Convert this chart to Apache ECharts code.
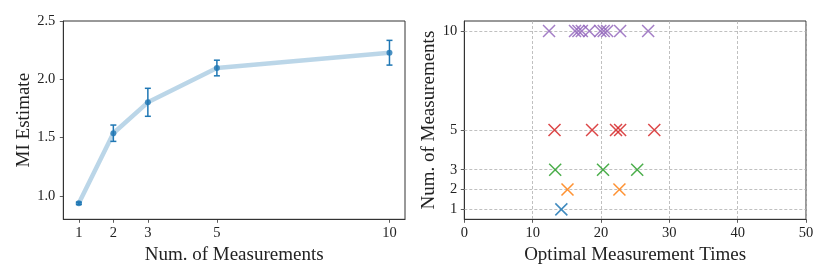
<!DOCTYPE html>
<html>
<head>
<meta charset="utf-8">
<script src="https://cdn.jsdelivr.net/npm/echarts@6/dist/echarts.min.js"></script>
<style>html,body{margin:0;padding:0;background:#fff}#c{width:830px;height:277px}</style>
</head>
<body>
<div id="c"></div>
<script>
// Left panel data
const numMeasurements = [1, 2, 3, 5, 10];
const miMean = [0.937, 1.538, 1.803, 2.097, 2.228];
const miErr = [0.01, 0.07, 0.12, 0.067, 0.106];
const miTicks = [1.0, 1.5, 2.0, 2.5];
// Right panel data
const nTicks = [1, 2, 3, 5, 10];
const times1 = [14.2];
const times2 = [15.1, 22.7];
const times3 = [13.3, 20.3, 25.3];
const times5 = [13.2, 18.7, 22.2, 22.8, 27.8];
const times10 = [12.4, 16.2, 16.7, 17.2, 18.3, 19.9, 20.4, 20.9, 22.8, 26.9];
const timeTicks = [0, 10, 20, 30, 40, 50];

const FONT = 'Liberation Serif';
const TXT = '#222';
const TICKFS = 14.5;
const NAMEFS = 19;
const colors = ['#1f77b4', '#ff7f0e', '#2ca02c', '#d62728', '#9467bd'];

const chart = echarts.init(document.getElementById('c'), null, {renderer: 'canvas'});

const axisCommon = {
  axisLine: {show: true, onZero: false, lineStyle: {color: '#333', width: 1}},
  axisTick: {show: true, length: 3.5, lineStyle: {color: '#333', width: 0.8}},
  axisLabel: {color: TXT, fontFamily: FONT, fontSize: TICKFS},
  nameTextStyle: {color: TXT, fontFamily: FONT, fontSize: NAMEFS},
  nameLocation: 'middle'
};

function merge(a, b) {
  const o = JSON.parse(JSON.stringify(a));
  for (const k in b) {
    if (o[k] && typeof o[k] === 'object' && !Array.isArray(o[k]) && typeof b[k] === 'object' && !Array.isArray(b[k])) {
      o[k] = Object.assign({}, o[k], b[k]);
    } else o[k] = b[k];
  }
  return o;
}

const cross = 'path://M0,0L10,10M10,0L0,10';
function scatterSeries(vals, n, color) {
  return {
    type: 'scatter', xAxisIndex: 1, yAxisIndex: 1,
    data: vals.map(v => [v, n]),
    symbol: cross, symbolSize: 12,
    itemStyle: {color: 'rgba(0,0,0,0)', borderColor: color, borderWidth: 1.5, opacity: 0.85},
    z: 5
  };
}

const gridLine = {show: true, lineStyle: {color: '#b0b0b0', type: [3, 2], width: 0.8}};
const tickStyle = {show: true, length: 3.5, lineStyle: {color: '#333', width: 0.8}};

chart.setOption({
  animation: false,
  grid: [
    {left: 63.3, top: 21, width: 341.7, height: 198.3, show: true, borderColor: '#333', borderWidth: 1, backgroundColor: 'rgba(0,0,0,0)'},
    {left: 464.3, top: 21, width: 341.7, height: 198.3, show: true, borderColor: '#333', borderWidth: 1, backgroundColor: 'rgba(0,0,0,0)'}
  ],
  xAxis: [
    merge(axisCommon, {
      gridIndex: 0, type: 'value', min: 0.55, max: 10.45,
      name: 'Num. of Measurements', nameGap: 19,
      splitLine: {show: false},
      axisTick: Object.assign({}, tickStyle, {customValues: numMeasurements}),
      axisLabel: {color: TXT, fontFamily: FONT, fontSize: TICKFS, margin: 6, customValues: numMeasurements, formatter: v => String(v)}
    }),
    merge(axisCommon, {
      gridIndex: 1, type: 'value', min: 0, max: 50, interval: 10,
      name: 'Optimal Measurement Times', nameGap: 19,
      splitLine: gridLine,
      axisTick: Object.assign({}, tickStyle, {customValues: timeTicks}),
      axisLabel: {color: TXT, fontFamily: FONT, fontSize: TICKFS, margin: 6, customValues: timeTicks, formatter: v => String(v)}
    })
  ],
  yAxis: [
    merge(axisCommon, {
      gridIndex: 0, type: 'value', min: 0.8, max: 2.5,
      name: 'MI Estimate', nameGap: 29,
      splitLine: {show: false},
      axisTick: Object.assign({}, tickStyle, {customValues: miTicks}),
      axisLabel: {color: TXT, fontFamily: FONT, fontSize: TICKFS, margin: 8, customValues: miTicks, formatter: v => v.toFixed(1)}
    }),
    merge(axisCommon, {
      gridIndex: 1, type: 'value', min: 0.5, max: 10.5,
      name: 'Num. of Measurements', nameGap: 25,
      splitLine: {show: false},
      axisTick: Object.assign({}, tickStyle, {customValues: nTicks}),
      axisLabel: {color: TXT, fontFamily: FONT, fontSize: TICKFS, margin: 7, customValues: nTicks, formatter: v => String(v)}
    })
  ],
  series: [
    {
      type: 'line', xAxisIndex: 0, yAxisIndex: 0,
      data: numMeasurements.map((x, i) => [x, miMean[i]]),
      symbol: 'none',
      lineStyle: {color: 'rgba(31,119,180,0.3)', width: 4.5},
      z: 2
    },
    {
      type: 'custom', xAxisIndex: 0, yAxisIndex: 0,
      data: numMeasurements.map((x, i) => [x, miMean[i] - miErr[i], miMean[i] + miErr[i]]),
      renderItem: function (params, api) {
        const lo = api.coord([api.value(0), api.value(1)]);
        const hi = api.coord([api.value(0), api.value(2)]);
        const cw = 3;
        const st = {stroke: '#1f77b4', lineWidth: 1.5};
        return {type: 'group', children: [
          {type: 'line', shape: {x1: lo[0], y1: lo[1], x2: hi[0], y2: hi[1]}, style: st},
          {type: 'line', shape: {x1: lo[0] - cw, y1: lo[1], x2: lo[0] + cw, y2: lo[1]}, style: st},
          {type: 'line', shape: {x1: hi[0] - cw, y1: hi[1], x2: hi[0] + cw, y2: hi[1]}, style: st}
        ]};
      },
      z: 3
    },
    {
      type: 'scatter', xAxisIndex: 0, yAxisIndex: 0,
      data: numMeasurements.map((x, i) => [x, miMean[i]]),
      symbol: 'circle', symbolSize: 6,
      itemStyle: {color: '#1f77b4'},
      z: 4
    },
    {
      type: 'line', xAxisIndex: 1, yAxisIndex: 1, data: [], silent: true,
      markLine: {
        silent: true, symbol: 'none', label: {show: false},
        lineStyle: {color: '#b0b0b0', type: [3, 2], width: 0.8},
        data: nTicks.map(v => ({yAxis: v}))
      },
      z: 1
    },
    scatterSeries(times1, 1, colors[0]),
    scatterSeries(times2, 2, colors[1]),
    scatterSeries(times3, 3, colors[2]),
    scatterSeries(times5, 5, colors[3]),
    scatterSeries(times10, 10, colors[4])
  ]
});
</script>
</body>
</html>
